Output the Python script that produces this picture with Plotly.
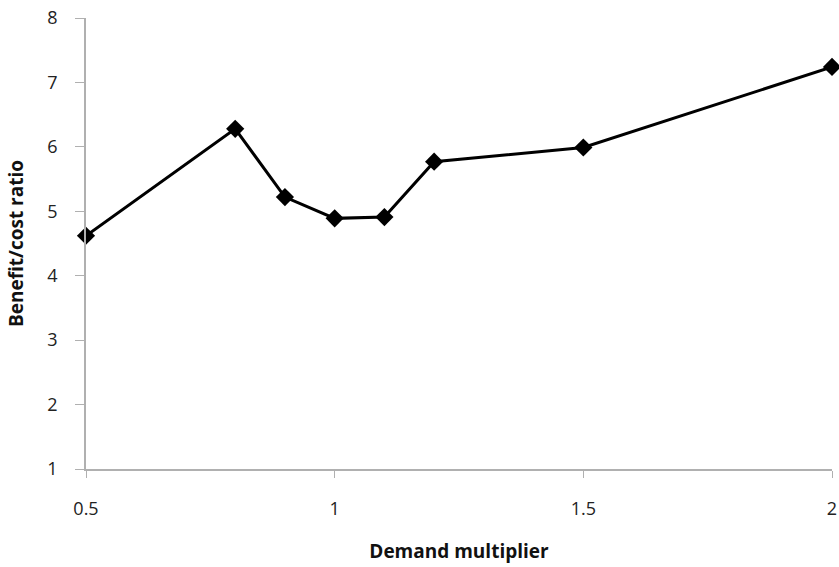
import plotly.graph_objects as go

demand_multiplier = [0.5, 0.8, 0.9, 1.0, 1.1, 1.2, 1.5, 2.0]
benefit_cost_ratio = [4.62, 6.28, 5.22, 4.89, 4.91, 5.77, 5.99, 7.24]

x_ticks = [0.5, 1, 1.5, 2]
x_tick_labels = ["0.5", "1", "1.5", "2"]
y_ticks = [1, 2, 3, 4, 5, 6, 7, 8]

fig = go.Figure()
fig.add_trace(go.Scatter(
    x=demand_multiplier, y=benefit_cost_ratio,
    mode="lines+markers",
    line=dict(color="black", width=3),
    marker=dict(symbol="diamond", size=14, color="black"),
    showlegend=False,
    cliponaxis=False,
))

axis_font = dict(family="Open Sans, Liberation Sans, sans-serif", size=18, color="#222")
title_font = dict(family="Open Sans, Liberation Sans, sans-serif", size=19, color="#111")

fig.update_layout(
    width=839, height=567,
    margin=dict(l=86, r=7, t=18, b=98, autoexpand=False),
    paper_bgcolor="white", plot_bgcolor="white",
    xaxis=dict(
        range=[0.5, 2], tickvals=x_ticks, ticktext=x_tick_labels,
        showline=True, linecolor="#b0b0b0", linewidth=1.5,
        ticks="outside", ticklen=7, tickcolor="#b0b0b0",
        showgrid=False, zeroline=False, tickfont=axis_font,
        ticklabelstandoff=16, ticklabeloverflow="allow",
        automargin=False,
        title=dict(text="<b>Demand multiplier</b>", font=title_font, standoff=25),
    ),
    yaxis=dict(
        range=[1, 8], tickvals=y_ticks,
        showline=True, linecolor="#b0b0b0", linewidth=1.5,
        ticks="outside", ticklen=9, tickcolor="#b0b0b0",
        showgrid=False, zeroline=False, tickfont=axis_font,
        ticklabelstandoff=14, ticklabeloverflow="allow",
        automargin=False,
        title=dict(text="<b>Benefit/cost ratio</b>", font=title_font, standoff=19),
    ),
)

fig.write_html(
    "out.html",
    config={"displayModeBar": False},
    post_script="document.body.style.margin='0';document.body.style.overflow='hidden';",
)
